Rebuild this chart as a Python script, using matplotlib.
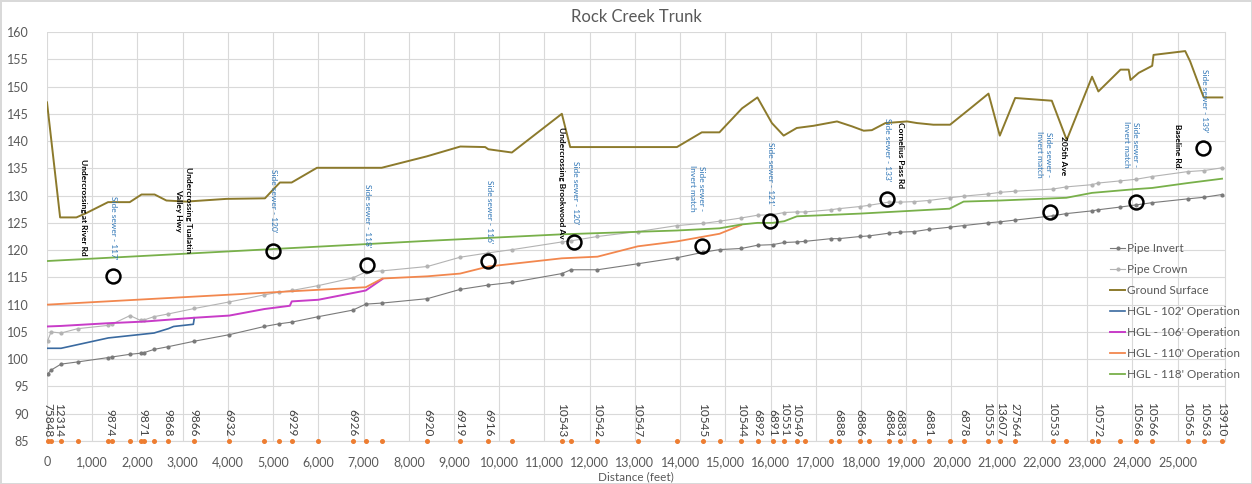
import matplotlib
matplotlib.use("Agg")
import matplotlib.pyplot as plt
from matplotlib.ticker import FuncFormatter, MultipleLocator

plt.rcParams['font.family'] = ['Lato', 'DejaVu Sans']

# ---------------- data ----------------
stations = [15, 90, 310, 679, 1356, 1431, 1836, 2072, 2146, 2367, 2683, 3258, 4032, 4807,
            5139, 5413, 6001, 6762, 7049, 7416, 8412, 9135, 9762, 10293, 11385, 11584,
            12173, 13066, 13929, 14504, 14872, 15351, 15712, 16044, 16303, 16583, 16752,
            17330, 17504, 17984, 18167, 18610, 18869, 19178, 19495, 19959, 20269, 20808,
            21080, 21397, 22246, 22541, 23109, 23242, 23735, 24089, 24436, 25224, 25593, 25985]
pipe_invert = [97.3, 98.0, 99.1, 99.5, 100.3, 100.4, 100.9, 101.1, 101.2, 101.8, 102.3, 103.3,
               104.5, 106.0, 106.5, 106.8, 107.8, 109.0, 110.1, 110.3, 111.1, 112.8, 113.6,
               114.1, 115.7, 116.4, 116.4, 117.5, 118.6, 119.6, 120.1, 120.3, 120.9, 121.0,
               121.4, 121.5, 121.6, 122.1, 122.1, 122.5, 122.6, 123.1, 123.3, 123.4, 123.8,
               124.2, 124.5, 125.0, 125.2, 125.5, 126.3, 126.7, 127.2, 127.4, 127.9, 128.3,
               128.7, 129.4, 129.7, 130.2]
pipe_crown = [103.4, 105.0, 104.8, 105.6, 106.2, 106.4, 108.0, 107.1, 107.2, 107.8, 108.3, 109.3,
              110.5, 111.8, 112.3, 112.6, 113.5, 114.9, 116.0, 116.2, 117.0, 118.7, 119.5,
              120.1, 121.5, 121.7, 122.5, 123.4, 124.5, 124.9, 125.3, 125.9, 126.4, 126.5,
              126.9, 127.0, 127.0, 127.4, 127.6, 128.0, 128.2, 128.8, 128.8, 128.9, 129.1,
              129.6, 129.9, 130.3, 130.6, 130.8, 131.2, 131.6, 132.0, 132.3, 132.7, 133.0,
              133.5, 134.4, 134.6, 135.1]

ground_x = [0, 290, 650, 870, 1350, 1830, 2090, 2380, 2640, 3080, 3970, 4820, 5000, 5150, 5410,
            5970, 7400, 8400, 9140, 9690, 9760, 10280, 11385, 11570, 13930, 14480, 14870, 15370,
            15710, 16030, 16290, 16580, 16950, 17470, 17800, 18060, 18240, 18540, 19020, 19240,
            19600, 19970, 20420, 20820, 21070, 21410, 22220, 22550, 23110, 23250, 23740, 23920,
            23960, 24140, 24440, 24470, 25170, 25280, 25500, 25580, 25990]
ground_y = [147.1, 126.0, 126.0, 126.8, 128.8, 128.8, 130.2, 130.2, 129.1, 128.9, 129.4, 129.5,
            131.1, 132.4, 132.4, 135.1, 135.1, 137.2, 139.0, 138.9, 138.5, 137.9, 145.0, 138.9,
            138.9, 141.6, 141.6, 146.0, 148.0, 143.3, 141.0, 142.4, 142.8, 143.6, 142.7, 141.9,
            142.0, 143.3, 143.6, 143.3, 143.0, 143.0, 146.0, 148.7, 141.0, 147.9, 147.4, 140.2,
            151.8, 149.1, 153.1, 153.1, 151.2, 152.5, 153.8, 155.8, 156.5, 154.6, 149.7, 148.0,
            148.0]

hgl102_x = [0, 310, 1356, 2367, 2683, 2800, 3236, 3258]
hgl102_y = [102.0, 102.0, 103.9, 104.8, 105.6, 106.0, 106.4, 107.6]
hgl106_x = [0, 310, 1356, 2146, 3258, 4032, 4807, 5370, 5413, 6001, 7049, 7416]
hgl106_y = [106.0, 106.1, 106.6, 106.9, 107.6, 108.0, 109.2, 109.8, 110.6, 110.9, 112.6, 114.7]
hgl110_x = [0, 7049, 7416, 8412, 9135, 9762, 11385, 12173, 13066, 13929, 14872, 15351]
hgl110_y = [110.0, 113.2, 114.8, 115.2, 115.7, 117.0, 118.5, 118.8, 120.7, 121.6, 123.0, 124.6]
hgl118_x = [0, 5000, 8412, 11385, 13929, 14872, 15351, 15712, 16044, 16303, 16583, 17984,
            19959, 20269, 21080, 22541, 23109, 24089, 24436, 25224, 25985]
hgl118_y = [118.0, 120.2, 121.7, 122.9, 123.6, 124.0, 124.7, 125.0, 125.0, 125.3, 126.2, 126.7,
            127.6, 128.9, 129.1, 129.6, 130.5, 131.2, 131.4, 132.3, 133.1]

circle_x = [1460, 5000, 7080, 9755, 11657, 14488, 15993, 18573, 22186, 24089, 25564]
circle_y = [115.3, 119.9, 117.3, 118.0, 121.5, 120.8, 125.3, 129.4, 127.0, 128.8, 138.7]

sewer_text = ["Side sewer - 117'", "Side sewer - 120'", "Side sewer - 118'", "Side sewer - 116'",
              "Side sewer - 120'", "Side sewer -\nInvert match", "Side sewer - 121'",
              "Side sewer - 133'", "Side sewer -\nInvert match", "Side sewer -\nInvert match",
              "Side sewer - 139'"]
sewer_x = [1467, 5006, 7085, 9784, 11680, 14371, 15993, 18596, 22040, 23979, 25593]
sewer_y = [124.1, 129.0, 126.3, 127.1, 130.5, 131.3, 134.0, 138.4, 137.5, 139.4, 147.4]

road_text = ["Undercrossing at River Rd", "Undercrossing Tualatin\nValley Hwy",
             "Undercrossing Brookwood Av", "Cornelius Pass Rd", "205th Ave", "Baseline Rd."]
road_x = [803, 3020, 11385, 18870, 22480, 24990]
road_y = [127.8, 127.3, 132.3, 137.4, 137.3, 138.9]

mh_x = [15, 250, 1400, 2110, 2683, 3258, 4032, 5413, 6762, 8412, 9135, 9762, 11385, 12173,
        13066, 14504, 15351, 15712, 16044, 16303, 16583, 17504, 17984, 18610, 18869, 19495,
        20269, 20808, 21080, 21397, 22246, 23242, 24089, 24436, 25224, 25593, 25985]
mh_text = ["75848", "12314", "9874", "9871", "9868", "9866", "6932", "6929", "6926", "6920",
           "6919", "6916", "10543", "10542", "10547", "10545", "10544", "6892", "6891", "10551",
           "10549", "6888", "6886", "6884", "6883", "6881", "6878", "10555", "13607", "27564",
           "10553", "10572", "10568", "10566", "10565", "10563", "13910"]
label_base = 85

# ---------------- figure ----------------
fig = plt.figure(figsize=(12.52, 4.84), dpi=100)
fig.patch.set_edgecolor('#d9d9d9')
fig.patch.set_linewidth(1.0)
ax = fig.add_axes([47/1252, 1-441/484, (1225-47)/1252, (441-32)/484])

gridc = '#d9d9d9'
ax.set_xlim(0, 26050)
ax.set_ylim(85, 160)
ax.yaxis.set_major_locator(MultipleLocator(5))
ax.set_xticks(list(range(0, 26000, 1000)))
ax.grid(True, color=gridc, linewidth=0.8)
ax.set_axisbelow(True)
for s in ['left', 'top']:
    ax.spines[s].set_visible(False)
ax.spines['right'].set_color(gridc)
ax.spines['right'].set_linewidth(0.8)
ax.spines['bottom'].set_color(gridc)
ax.spines['bottom'].set_linewidth(0.8)
ax.tick_params(length=0, labelsize=9, labelcolor='#595959')
ax.tick_params(axis='y', pad=13)
ax.tick_params(axis='x', pad=11)
ax.xaxis.set_major_formatter(FuncFormatter(lambda v, p: f"{int(v):,}"))

l_inv, = ax.plot(stations, pipe_invert, color='#7a7a7a', lw=0.8, marker='o', ms=2.0,
                 label='Pipe Invert', zorder=3)
l_crn, = ax.plot(stations, pipe_crown, color='#b3b3b3', lw=0.8, marker='o', ms=2.0,
                 label='Pipe Crown', zorder=3)
l_gnd, = ax.plot(ground_x, ground_y, color='#8c7a2c', lw=1.4, label='Ground Surface', zorder=3)
l_102, = ax.plot(hgl102_x, hgl102_y, color='#3a6aa0', lw=1.2, label="HGL - 102' Operation", zorder=4)
l_106, = ax.plot(hgl106_x, hgl106_y, color='#c83cc8', lw=1.4, label="HGL - 106' Operation", zorder=4)
l_110, = ax.plot(hgl110_x, hgl110_y, color='#f2874e', lw=1.3, label="HGL - 110' Operation", zorder=4)
l_118, = ax.plot(hgl118_x, hgl118_y, color='#78b04a', lw=1.3, label="HGL - 118' Operation", zorder=5)

ax.plot(stations, [label_base]*len(stations), ls='none', marker='o', ms=2.6,
        color='#ed7d31', zorder=6, clip_on=False)

ax.plot(circle_x, circle_y, ls='none', marker='o', ms=10, mfc='none', mec='black',
        mew=1.8, zorder=7)

for t, x, y in zip(sewer_text, sewer_x, sewer_y):
    ax.text(x, y, t, rotation=-90, ha='center', va='center', fontsize=6,
            color='#2e75b6', multialignment='center', linespacing=1.35, zorder=8)
for t, x, y in zip(road_text, road_x, road_y):
    ax.text(x, y, t, rotation=-90, ha='center', va='center', fontsize=6,
            color='black', fontweight='bold', multialignment='center', linespacing=1.35, zorder=8)
for t, x in zip(mh_text, mh_x):
    ax.annotate(t, (x, label_base), xytext=(0, 3), textcoords='offset points', rotation=-90,
                ha='center', va='bottom', fontsize=8.5, color='#404040', zorder=8)

leg = ax.legend(handles=[l_inv, l_crn, l_gnd, l_102, l_106, l_110, l_118],
                loc='upper left', bbox_to_anchor=((1110-47)/1178, 1-(243-32)/409),
                frameon=False, fontsize=8.5, handlelength=1.3, handletextpad=0.1,
                labelspacing=0.85, borderaxespad=0, borderpad=0)
for txt in leg.get_texts():
    txt.set_color('#595959')

fig.text(0.5*(47+1225)/1252, 1-17/484, 'Rock Creek Trunk', ha='center', va='center',
         fontsize=12, color='#595959')
fig.text(0.5*(47+1225)/1252, 1-477/484, 'Distance (feet)', ha='center', va='center',
         fontsize=8.5, color='#595959')

fig.savefig('out.png', dpi=100)
